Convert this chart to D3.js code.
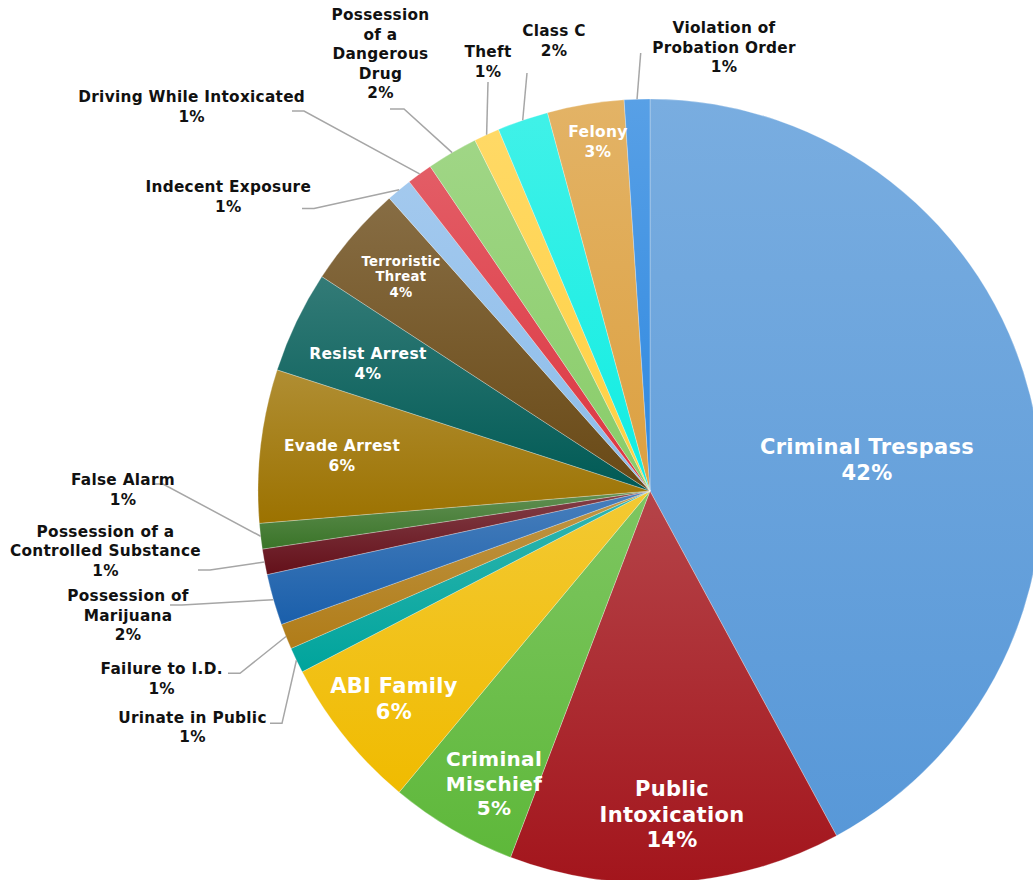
<!DOCTYPE html>
<html>
<head>
<meta charset="utf-8">
<script src="https://cdn.jsdelivr.net/npm/d3@7"></script>
<style>
  html, body { margin: 0; padding: 0; background: #fff; overflow: hidden; }
  svg { display: block; font-family: "DejaVu Sans", Verdana, sans-serif; font-weight: bold; }
</style>
</head>
<body>
<div id="chart"></div>
<script>
// Offence categories, clockwise from 12 o'clock
const categories = [
    "Criminal Trespass", "Public Intoxication", "Criminal Mischief", "ABI Family",
    "Urinate in Public", "Failure to I.D.", "Possession of Marijuana",
    "Possession of a Controlled Substance", "False Alarm", "Evade Arrest",
    "Resist Arrest", "Terroristic Threat", "Indecent Exposure",
    "Driving While Intoxicated", "Possession of a Dangerous Drug", "Theft",
    "Class C", "Felony", "Violation of Probation Order"
];

// Counts (total 95)
const counts = [40, 13, 5, 6, 1, 1, 2, 1, 1, 6, 4, 4, 1, 1, 2, 1, 2, 3, 1];

const colors = [
    "#5898d8", "#a3151c", "#5eb83a", "#f0bb00",
    "#00a49c", "#b07c18", "#1a5fab",
    "#64101a", "#3a7428", "#9c7200",
    "#005a55", "#694915", "#8cbcea",
    "#dc3540", "#88cc68", "#ffd040",
    "#10ede2", "#dca040", "#2e88e0"
];

const width = 1033;
const height = 880;
const cx = 650, cy = 491, radius = 392;

// Label layout: inside labels (white) and outside labels (black with leader lines)
const labelLayout = {
    "Criminal Trespass": { inside: true, x: 867, y: 447, size: 21, lh: 26, lines: ["Criminal Trespass"] },
    "Public Intoxication": { inside: true, x: 672, y: 789, size: 21, lh: 25.5, lines: ["Public", "Intoxication"] },
    "Criminal Mischief": { inside: true, x: 494, y: 759, size: 20, lh: 24.5, lines: ["Criminal", "Mischief"] },
    "ABI Family": { inside: true, x: 394, y: 686, size: 21, lh: 26, lines: ["ABI Family"] },
    "Evade Arrest": { inside: true, x: 342, y: 446, size: 15.5, lh: 20, lines: ["Evade Arrest"] },
    "Resist Arrest": { inside: true, x: 368, y: 354, size: 15.5, lh: 20, lines: ["Resist Arrest"] },
    "Terroristic Threat": { inside: true, x: 401, y: 260.5, size: 13.2, lh: 15.6, lines: ["Terroristic", "Threat"] },
    "Felony": { inside: true, x: 598, y: 131.5, size: 15.5, lh: 20, lines: ["Felony"] },

    "Violation of Probation Order": { x: 724, y: 28, size: 15.3, lh: 19.5, lines: ["Violation of", "Probation Order"], leader: [[640.7, 53]] },
    "Class C": { x: 554, y: 31, size: 15.3, lh: 19.5, lines: ["Class C"], leader: [[527, 73]] },
    "Theft": { x: 488, y: 52.3, size: 15.3, lh: 19.5, lines: ["Theft"], leader: [[488, 82]] },
    "Possession of a Dangerous Drug": { x: 380.5, y: 15, size: 15.3, lh: 19.6, lines: ["Possession", "of a", "Dangerous", "Drug"], leader: [[390, 109], [404, 109]] },
    "Driving While Intoxicated": { x: 191.7, y: 97.3, size: 15.3, lh: 19.5, lines: ["Driving While Intoxicated"], leader: [[292, 111], [304, 111]] },
    "Indecent Exposure": { x: 228.3, y: 187.3, size: 15.3, lh: 19.5, lines: ["Indecent Exposure"], leader: [[302, 208.5], [314, 208.5]] },
    "False Alarm": { x: 123, y: 480, size: 15.3, lh: 19.5, lines: ["False Alarm"], leader: [[153, 484], [163, 484]] },
    "Possession of a Controlled Substance": { x: 105.5, y: 531.7, size: 15.3, lh: 19.6, lines: ["Possession of a", "Controlled Substance"], leader: [[198, 570], [210, 570]] },
    "Possession of Marijuana": { x: 128, y: 596, size: 15.3, lh: 19.5, lines: ["Possession of", "Marijuana"], leader: [[170, 605], [182, 605]] },
    "Failure to I.D.": { x: 161.7, y: 669, size: 15.3, lh: 19.5, lines: ["Failure to I.D."], leader: [[228, 673.3], [240, 673.3]] },
    "Urinate in Public": { x: 192.5, y: 717.7, size: 15.3, lh: 19.5, lines: ["Urinate in Public"], leader: [[270, 723.3], [282, 723.3]] }
};

const total = d3.sum(counts);
const data = categories.map((c, i) => ({ name: c, value: counts[i], color: colors[i], pct: Math.round(counts[i] / total * 100) + "%" }));

const svg = d3.select("#chart")
    .append("svg")
    .attr("width", width)
    .attr("height", height);

// One vertical gradient per slice (lighter at the top)
const defs = svg.append("defs");
data.forEach((d, i) => {
    const g = defs.append("linearGradient")
        .attr("id", "grad" + i)
        .attr("x1", 0).attr("y1", 0).attr("x2", 0).attr("y2", 1);
    g.append("stop").attr("offset", "0%").attr("stop-color", d3.interpolateRgb(d.color, "#fff")(0.2));
    g.append("stop").attr("offset", "100%").attr("stop-color", d.color);
});

const pie = d3.pie().sort(null).value(d => d.value);
const arc = d3.arc().innerRadius(0).outerRadius(radius);
const arcs = pie(data);

const g = svg.append("g").attr("transform", `translate(${cx},${cy})`);

g.selectAll("path")
    .data(arcs)
    .enter()
    .append("path")
    .attr("d", arc)
    .attr("fill", (d, i) => `url(#grad${i})`)
    .attr("stroke", "rgba(255,255,255,0.45)")
    .attr("stroke-width", 0.6);

// Leader lines for outside labels
const leaders = svg.append("g");
arcs.forEach(a => {
    const lay = labelLayout[a.data.name];
    if (!lay || lay.inside) return;
    const mid = (a.startAngle + a.endAngle) / 2;
    const end = [cx + radius * Math.sin(mid), cy - radius * Math.cos(mid)];
    const pts = lay.leader.concat([end]);
    leaders.append("polyline")
        .attr("points", pts.map(p => p.join(",")).join(" "))
        .attr("fill", "none")
        .attr("stroke", "#a6a6a6")
        .attr("stroke-width", 1.5);
});

// Labels
const labels = svg.append("g");
arcs.forEach(a => {
    const lay = labelLayout[a.data.name];
    if (!lay) return;
    const lines = lay.lines.concat([a.data.pct]);
    const t = labels.append("text")
        .attr("text-anchor", "middle")
        .attr("dominant-baseline", "central")
        .attr("font-size", lay.size + "px")
        .attr("letter-spacing", "0.3px")
        .attr("fill", lay.inside ? "#fff" : "#111");
    lines.forEach((ln, k) => {
        t.append("tspan")
            .attr("x", lay.x)
            .attr("y", lay.y + k * lay.lh)
            .text(ln);
    });
});
</script>
</body>
</html>
